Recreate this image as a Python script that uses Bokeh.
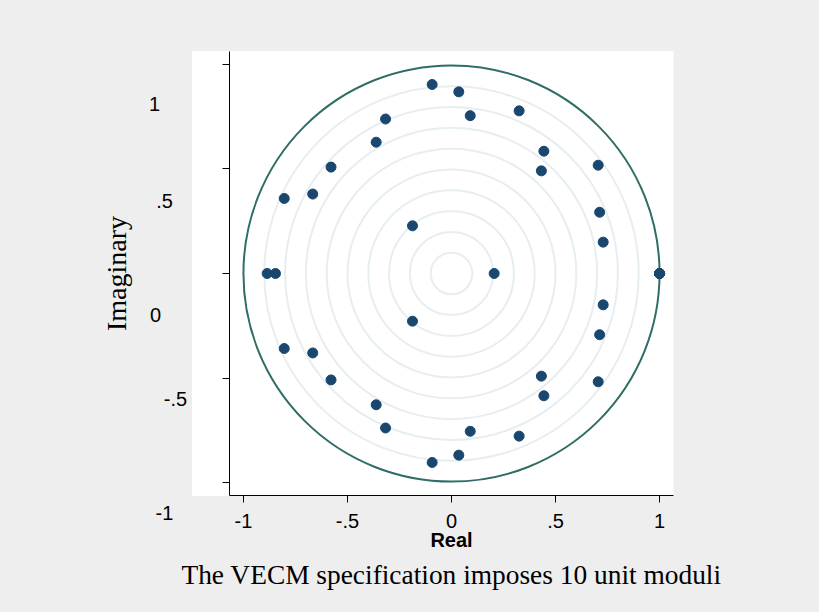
from bokeh.plotting import figure
from bokeh.models import Range1d, FixedTicker, Label, InlineStyleSheet
from bokeh.embed import file_html
from bokeh.resources import INLINE

# ---- data: eigenvalues of the companion matrix (real, imaginary) ----
real_part = [-0.093, 0.035, 0.325, 0.090, -0.317, -0.362, 0.444, -0.579, 0.705, 0.432,
             -0.667, -0.804, 0.712, -0.1875, 0.729,
             -0.886, -0.846, 0.205,
             1.0, 1.0, 1.0, 1.0, 1.0, 1.0, 1.0, 1.0, 1.0, 1.0,
             0.729, -0.1875, 0.712, -0.804, -0.667, 0.432, 0.705, -0.579, 0.444, -0.362,
             -0.317, 0.090, 0.325, 0.035, -0.093]
imag_part = [0.904, 0.869, 0.778, 0.755, 0.739, 0.628, 0.585, 0.509, 0.518, 0.491,
             0.380, 0.359, 0.293, 0.228, 0.150,
             0.0, 0.0, 0.0,
             0.0, 0.0, 0.0, 0.0, 0.0, 0.0, 0.0, 0.0, 0.0, 0.0,
             -0.150, -0.228, -0.293, -0.359, -0.380, -0.491, -0.518, -0.509, -0.585, -0.628,
             -0.739, -0.755, -0.778, -0.869, -0.904]

grid_moduli = [0.1, 0.2, 0.3, 0.4, 0.5, 0.6, 0.7, 0.8, 0.9]
unit_modulus = [1.0]

x_ticks = [-1, -0.5, 0, 0.5, 1]
x_tick_labels = ["-1", "-.5", "0", ".5", "1"]
y_ticks = [1, 0.5, 0, -0.5, -1]
y_tick_labels = ["1", ".5", "0", "-.5", "-1"]

caption = "The VECM specification imposes 10 unit moduli"

# ---- styles ----
BG = "#eeeeee"
NAVY = "#1a476f"
TEAL = "#2f6e66"
GRIDC = "#e6eef1"
# per-label pixel offsets of the y tick labels (as drawn in the original)
ylab_dx = [-75, -65, -74, -54, -65]
ylab_dy = [40, 32, 41, 21, 30]

XR = 1.067
YR = 1.062

# gray page with a white plot region that reaches a little left of the y axis
region_css = InlineStyleSheet(css=f"""
:host {{
  background-color: {BG};
  background-image: linear-gradient(white, white);
  background-repeat: no-repeat;
  background-position: 192px 51px;
  background-size: 481px 445px;
}}
""")

p = figure(frame_width=444, frame_height=444,
           min_border_left=229, min_border_right=146,
           min_border_top=51, min_border_bottom=117,
           x_range=Range1d(-XR, XR), y_range=Range1d(-YR, YR),
           output_backend="svg", toolbar_location=None,
           title=caption, title_location="below")
p.stylesheets = [region_css]

p.background_fill_color = "white"
p.border_fill_color = None
p.outline_line_color = None
p.xgrid.visible = False
p.ygrid.visible = False

# concentric reference circles
p.circle(x=[0] * len(grid_moduli), y=[0] * len(grid_moduli), radius=grid_moduli,
         fill_color=None, line_color=GRIDC, line_width=2)
p.circle(x=[0], y=[0], radius=unit_modulus, fill_color=None, line_color=TEAL, line_width=2)

# eigenvalues
p.scatter(real_part, imag_part, size=10, marker="circle",
          fill_color=NAVY, line_color=NAVY)

# x axis
xa = p.xaxis[0]
xa.ticker = FixedTicker(ticks=x_ticks)
xa.major_label_overrides = {t: l for t, l in zip(x_ticks, x_tick_labels)}
xa.minor_tick_line_color = None
xa.major_tick_in = 0
xa.major_tick_out = 7
xa.major_label_standoff = 11
xa.major_label_text_font = "Liberation Sans"
xa.major_label_text_font_size = "20px"
xa.major_label_text_color = "black"
xa.axis_label = "Real"
xa.axis_label_text_font = "Liberation Sans"
xa.axis_label_text_font_style = "bold"
xa.axis_label_text_font_size = "20px"
xa.axis_label_text_color = "black"
xa.axis_label_standoff = -2
xa.axis_line_color = "black"
xa.major_tick_line_color = "black"

# y axis (tick labels drawn separately to match their positions)
ya = p.yaxis[0]
ya.ticker = FixedTicker(ticks=y_ticks)
ya.major_label_overrides = {t: "" for t in y_ticks}
ya.minor_tick_line_color = None
ya.major_tick_in = 0
ya.major_tick_out = 7
ya.axis_label = "Imaginary"
ya.axis_label_text_font = "Liberation Serif"
ya.axis_label_text_font_style = "normal"
ya.axis_label_text_font_size = "28px"
ya.axis_label_text_color = "black"
ya.axis_label_standoff = 91
ya.axis_line_color = "black"
ya.major_tick_line_color = "black"

for t, lab, dx, dy in zip(y_ticks, y_tick_labels, ylab_dx, ylab_dy):
    p.add_layout(Label(x=-XR, y=t, text=lab, x_offset=dx, y_offset=-dy,
                       text_align="center", text_baseline="middle",
                       text_font="Liberation Sans", text_font_size="20px",
                       text_color="black"), "left")

# caption
p.title.align = "center"
p.title.text_font = "Liberation Serif"
p.title.text_font_style = "normal"
p.title.text_font_size = "27.4px"
p.title.text_color = "black"
p.title.standoff = 9

open("out.html", "w").write(file_html(p, INLINE))
